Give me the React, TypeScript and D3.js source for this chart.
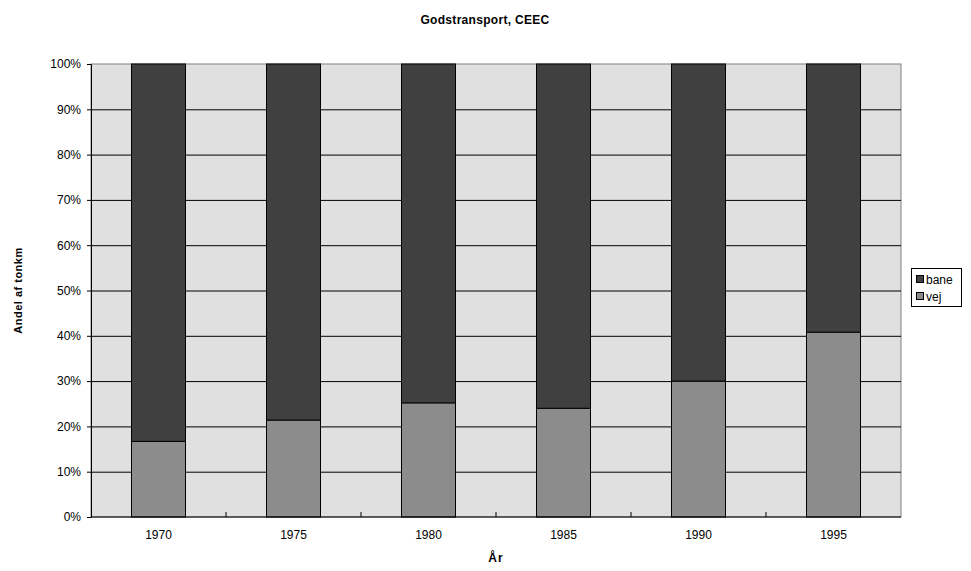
import React, { useRef, useEffect } from 'react';
import * as d3 from 'd3';

const years = ['1970', '1975', '1980', '1985', '1990', '1995'];
const vej = [16.7, 21.4, 25.2, 24.0, 30.0, 40.8];
const bane = vej.map(v => 100 - v);
const seriesNames = ['vej', 'bane'];
const seriesColors = ['#8c8c8c', '#404040'];
const yTicks = [0, 10, 20, 30, 40, 50, 60, 70, 80, 90, 100];

const App = () => {
  const svgRef = useRef<SVGSVGElement>(null);

  useEffect(() => {
    const plot = { left: 91, top: 64, right: 901, bottom: 517 };
    const svg = d3.select(svgRef.current)
      .attr('width', 971)
      .attr('height', 571)
      .style('position', 'absolute')
      .style('left', '0px')
      .style('top', '0px')
      .style('background', 'white')
      .style('font-family', 'Arial, "Liberation Sans", sans-serif');

    svg.selectAll('*').remove();

    const rows = years.map((year, i) => ({ year, vej: vej[i], bane: bane[i] }));
    const stacked = d3.stack<any>().keys(seriesNames)(rows);

    const x = d3.scaleBand().domain(years).range([plot.left, plot.right]).paddingInner(0).paddingOuter(0);
    const y = d3.scaleLinear().domain([0, 100]).range([plot.bottom, plot.top]);
    const barW = x.bandwidth() * 0.4;

    // plot background
    svg.append('rect')
      .attr('x', plot.left).attr('y', plot.top)
      .attr('width', plot.right - plot.left).attr('height', plot.bottom - plot.top)
      .attr('fill', '#e0e0e0')
      .attr('stroke', '#808080');

    // gridlines
    svg.append('g').selectAll('line')
      .data(yTicks.slice(1, -1))
      .enter().append('line')
      .attr('x1', plot.left).attr('x2', plot.right)
      .attr('y1', d => y(d) + 0.5).attr('y2', d => y(d) + 0.5)
      .attr('stroke', '#000').attr('stroke-width', 1);

    // bars
    svg.append('g').selectAll('g')
      .data(stacked)
      .enter().append('g')
      .attr('fill', (d, i) => seriesColors[i])
      .selectAll('rect')
      .data(d => d)
      .enter().append('rect')
      .attr('x', (d: any) => x(d.data.year)! + (x.bandwidth() - barW) / 2)
      .attr('y', d => y(d[1]))
      .attr('width', barW)
      .attr('height', d => y(d[0]) - y(d[1]))
      .attr('stroke', '#000')
      .attr('stroke-width', 1);

    // y axis
    const yAxis = svg.append('g')
      .attr('transform', `translate(${plot.left},0)`)
      .call(d3.axisLeft(y).tickValues(yTicks).tickSize(4).tickFormat(d => `${d}%`));
    yAxis.select('.domain').attr('stroke', '#000');
    yAxis.selectAll('text').attr('font-size', 12).attr('fill', '#000').attr('font-family', 'Arial, "Liberation Sans", sans-serif').attr('dx', '-3');

    // x axis
    const xAxis = svg.append('g').attr('transform', `translate(0,${plot.bottom})`);
    xAxis.append('line')
      .attr('x1', plot.left).attr('x2', plot.right)
      .attr('y1', 0).attr('y2', 0)
      .attr('stroke', '#000');
    xAxis.selectAll('line.tick')
      .data(years.slice(1))
      .enter().append('line')
      .attr('class', 'tick')
      .attr('x1', d => x(d)!).attr('x2', d => x(d)!)
      .attr('y1', 0).attr('y2', -5)
      .attr('stroke', '#000');
    xAxis.selectAll('text')
      .data(years)
      .enter().append('text')
      .attr('x', d => x(d)! + x.bandwidth() / 2)
      .attr('y', 22)
      .attr('text-anchor', 'middle')
      .attr('font-size', 12)
      .text(d => d);

    // titles
    svg.append('text')
      .attr('x', 485).attr('y', 24)
      .attr('text-anchor', 'middle')
      .attr('font-size', 12)
      .attr('font-weight', 'bold')
      .attr('letter-spacing', 0.3)
      .text('Godstransport, CEEC');

    svg.append('text')
      .attr('x', 496).attr('y', 562)
      .attr('text-anchor', 'middle')
      .attr('font-size', 12)
      .attr('font-weight', 'bold')
      .attr('letter-spacing', 1)
      .text('År');

    svg.append('text')
      .attr('transform', 'rotate(-90)')
      .attr('x', -(plot.top + plot.bottom) / 2)
      .attr('y', 22)
      .attr('text-anchor', 'middle')
      .attr('font-size', 11)
      .attr('font-weight', 'bold')
      .attr('letter-spacing', 0.5)
      .text('Andel af tonkm');

    // legend
    const legend = svg.append('g');
    legend.append('rect')
      .attr('x', 911.5).attr('y', 268.5).attr('width', 50).attr('height', 38)
      .attr('fill', 'white').attr('stroke', '#000');
    const legendItems = ['bane', 'vej'];
    legendItems.forEach((name, i) => {
      const idx = seriesNames.indexOf(name);
      legend.append('rect')
        .attr('x', 916.5).attr('y', 275.5 + i * 17).attr('width', 7).attr('height', 7)
        .attr('fill', seriesColors[idx]).attr('stroke', '#000');
      legend.append('text')
        .attr('x', 926).attr('y', 284 + i * 17)
        .attr('font-size', 12)
        .text(name);
    });
  }, []);

  return <svg ref={svgRef}></svg>;
};

export default App;
